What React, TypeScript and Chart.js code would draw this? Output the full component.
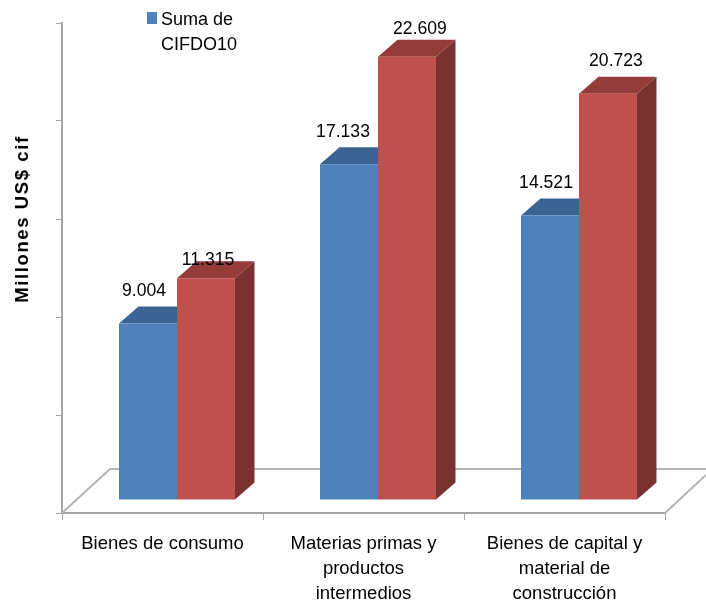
import React, { useEffect, useRef } from "react";
import { Chart, registerables } from "chart.js";

Chart.register(...registerables);

const categories = [
  ["Bienes de consumo"],
  ["Materias primas y", "productos", "intermedios"],
  ["Bienes de capital y", "material de", "construcción"],
];
const seriesBlue = [9004, 17133, 14521];
const seriesRed = [11315, 22609, 20723];
const legendLines = ["Suma de", "CIFDO10"];
const axisTitle = "Millones US$ cif";

const labelNudgeBlue = [[-4, -32], [-6, -32], [-4, -32]];
const labelNudgeRed = [[2, -18], [13, -28], [8, -33]];

const FONT = "Liberation Sans, Arial, sans-serif";
const AXIS = "#a6a6a6";
const SHIFT_X = 14.5;
const SHIFT_Y = -13;
const DEPTH_X = 19.5;
const DEPTH_Y = 17;

const fmt = (v: number) => (v / 1000).toFixed(3);

function poly(ctx: CanvasRenderingContext2D, pts: number[][], fill: string) {
  ctx.beginPath();
  pts.forEach((p, i) => (i ? ctx.lineTo(p[0], p[1]) : ctx.moveTo(p[0], p[1])));
  ctx.closePath();
  ctx.fillStyle = fill;
  ctx.fill();
}

const scene = {
  id: "scene",
  beforeDatasetsDraw(chart: any) {
    const { ctx, scales } = chart;
    const { left, right } = scales.x;
    const bottom = scales.y.bottom;
    ctx.save();
    ctx.strokeStyle = "#b4b4b4";
    ctx.lineWidth = 2;
    ctx.beginPath();
    ctx.moveTo(left, bottom);
    ctx.lineTo(left + 48, bottom - 44);
    ctx.lineTo(chart.width, bottom - 44);
    ctx.moveTo(right, bottom);
    ctx.lineTo(right + 41, bottom - 38);
    ctx.stroke();
    ctx.translate(SHIFT_X, SHIFT_Y);
    chart.data.datasets.forEach((ds: any, i: number) => {
      chart.getDatasetMeta(i).data.forEach((bar: any) => {
        const l = bar.x - bar.width / 2;
        const r = bar.x + bar.width / 2;
        const t = bar.y;
        const b = bar.base;
        poly(ctx, [[l, t], [l + DEPTH_X, t - DEPTH_Y], [r + DEPTH_X, t - DEPTH_Y], [r, t]], ds.topColor);
        poly(ctx, [[r, t], [r + DEPTH_X, t - DEPTH_Y], [r + DEPTH_X, b - DEPTH_Y], [r, b]], ds.sideColor);
      });
    });
    ctx.restore();
  },
  beforeDatasetDraw(chart: any) {
    chart.ctx.save();
    chart.ctx.translate(SHIFT_X, SHIFT_Y);
  },
  afterDatasetDraw(chart: any) {
    chart.ctx.restore();
  },
  afterDatasetsDraw(chart: any) {
    const { ctx } = chart;
    ctx.save();
    ctx.fillStyle = "#000";
    ctx.font = `17.6px ${FONT}`;
    ctx.textAlign = "center";
    ctx.textBaseline = "middle";
    chart.data.datasets.forEach((ds: any, i: number) => {
      chart.getDatasetMeta(i).data.forEach((bar: any, j: number) => {
        const n = ds.labelNudge[j];
        ctx.fillText(fmt(ds.data[j]), bar.x + SHIFT_X + n[0], bar.y + SHIFT_Y + n[1]);
      });
    });
    ctx.fillStyle = "#4f81bd";
    ctx.fillRect(147, 12, 10, 12);
    ctx.fillStyle = "#000";
    ctx.font = `18px ${FONT}`;
    ctx.textAlign = "left";
    ctx.fillText(legendLines[0], 161, 20);
    ctx.fillText(legendLines[1], 161, 45);
    ctx.translate(28, 219);
    ctx.rotate(-Math.PI / 2);
    ctx.textAlign = "center";
    ctx.textBaseline = "alphabetic";
    ctx.font = `bold 18.5px ${FONT}`;
    (ctx as any).letterSpacing = "1.6px";
    ctx.fillText(axisTitle, 0, 0);
    (ctx as any).letterSpacing = "0px";
    ctx.restore();
  },
};

export default function App() {
  const ref = useRef<HTMLCanvasElement>(null);
  useEffect(() => {
    document.body.style.margin = "0";
    const chart = new Chart(ref.current!, {
      type: "bar",
      data: {
        labels: categories,
        datasets: [
          { label: "Suma de CIFDO10", data: seriesBlue, backgroundColor: "#4f81bd", topColor: "#3b6494", sideColor: "#3b5f8c", labelNudge: labelNudgeBlue },
          { label: "Serie 2", data: seriesRed, backgroundColor: "#c0504d", topColor: "#943c3a", sideColor: "#7a3230", labelNudge: labelNudgeRed },
        ] as any,
      },
      options: {
        responsive: false,
        animation: false,
        layout: { padding: { left: 0, right: 41, top: 23, bottom: 0 } },
        plugins: { legend: { display: false }, tooltip: { enabled: false } },
        datasets: { bar: { categoryPercentage: 0.577, barPercentage: 1, clip: false } } as any,
        scales: {
          x: {
            afterFit: (s: any) => { s.height = 90; },
            border: { color: AXIS, width: 2 },
            grid: { drawOnChartArea: false, tickLength: 7, color: AXIS, lineWidth: 1 },
            ticks: { color: "#000", maxRotation: 0, font: { family: FONT, size: 18.5, lineHeight: 1.33 }, padding: 12 },
          },
          y: {
            min: 0,
            max: 25000,
            afterFit: (s: any) => { s.width = 62; },
            border: { color: AXIS, width: 2 },
            grid: { drawOnChartArea: false, tickLength: 6, color: AXIS, lineWidth: 1 },
            ticks: { display: false, stepSize: 5000 },
          },
        },
      },
      plugins: [scene],
    } as any);
    return () => chart.destroy();
  }, []);
  return <canvas ref={ref} width={706} height={603} style={{ display: "block" }} />;
}
